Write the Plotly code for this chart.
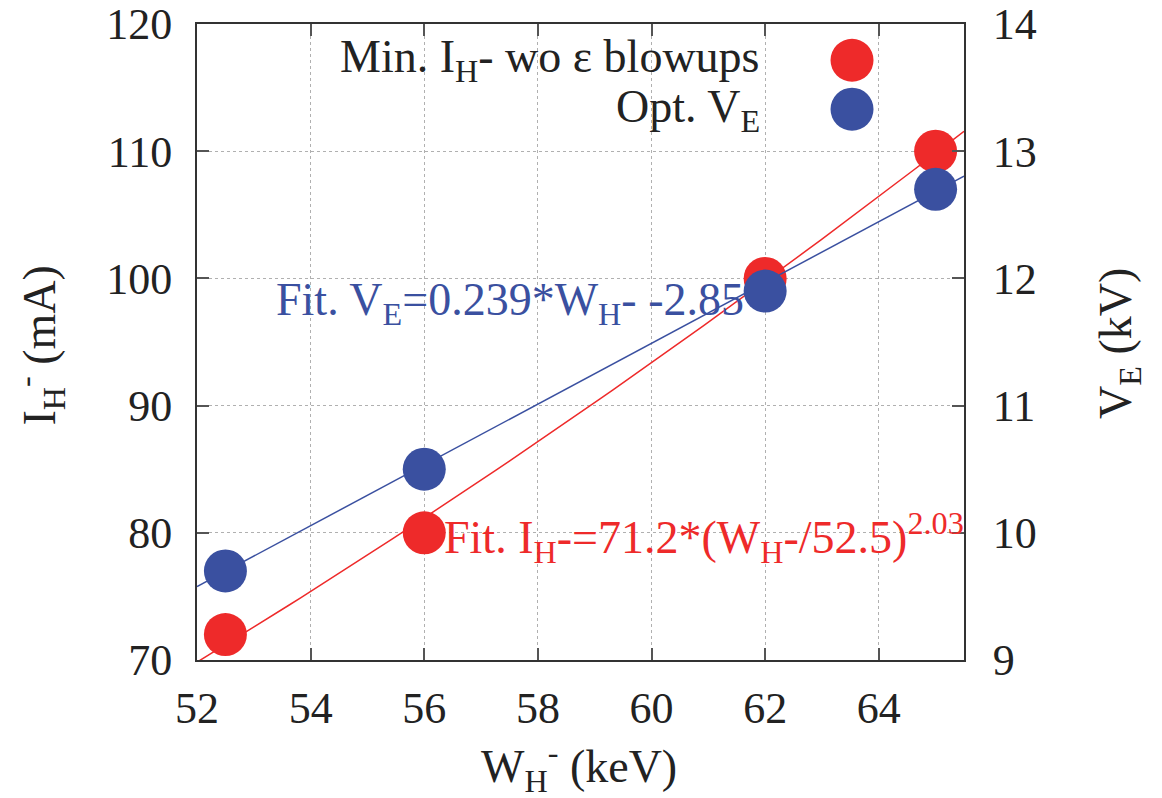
import numpy as np
import plotly.graph_objects as go

# ---- data ----
w_energy = [52.5, 56, 62, 65]            # W_H- (keV)
i_min = [72, 80, 100, 110]               # Min. I_H- wo eps blowups (mA)
v_opt = [9.7, 10.5, 11.9, 12.7]          # Opt. V_E (kV)

# fit parameters as printed on the chart
fit_i_a, fit_i_w0, fit_i_p = 71.2, 52.5, 2.03
fit_v_a, fit_v_b = 0.239, -2.85

x_ticks = [52, 54, 56, 58, 60, 62, 64]
y_ticks = [70, 80, 90, 100, 110, 120]
y2_ticks = [9, 10, 11, 12, 13, 14]

RED = "#EE2A2A"
BLUE = "#3A50A0"
FONT = "Liberation Serif"
FS = 44
AFS = 46

xfit = np.linspace(52, 65.5, 60)
ifit = fit_i_a * (xfit / fit_i_w0) ** fit_i_p
vfit = fit_v_a * xfit + fit_v_b

fig = go.Figure()
fig.add_trace(go.Scatter(x=xfit, y=ifit, mode="lines", line=dict(color=RED, width=1.5),
                         showlegend=False, hoverinfo="skip"))
fig.add_trace(go.Scatter(x=w_energy, y=i_min, mode="markers",
                         marker=dict(color=RED, size=43, line=dict(width=0)),
                         name="Min. I<sub>H</sub>- wo ε blowups", showlegend=False))
fig.add_trace(go.Scatter(x=xfit, y=vfit, mode="lines", line=dict(color=BLUE, width=1.5),
                         yaxis="y2", showlegend=False, hoverinfo="skip"))
fig.add_trace(go.Scatter(x=w_energy, y=v_opt, mode="markers", yaxis="y2",
                         marker=dict(color=BLUE, size=43, line=dict(width=0)),
                         name="Opt. V<sub>E</sub>", showlegend=False))

axis_common = dict(
    showline=True, linecolor="#333333", linewidth=2,
    ticks="inside", ticklen=12, tickwidth=1.5, tickcolor="#555555",
    tickfont=dict(family=FONT, size=FS, color="#222222"),
    zeroline=False, automargin=False,
)

fig.update_layout(
    width=1162, height=798,
    margin=dict(l=197, r=198, t=24, b=138),
    paper_bgcolor="white", plot_bgcolor="white",
    font=dict(family=FONT, size=FS, color="#222222"),
    showlegend=False,
    xaxis=dict(range=[52, 65.5], tickvals=x_ticks, mirror="ticks",
               showgrid=True, gridcolor="#b0b0b0", griddash="dot", gridwidth=1,
               ticklabelstandoff=8, **axis_common),
    yaxis=dict(range=[70, 120], tickvals=y_ticks, mirror=True,
               showgrid=True, gridcolor="#b0b0b0", griddash="dot", gridwidth=1,
               ticklabelstandoff=14, **axis_common),
    yaxis2=dict(range=[9, 14], tickvals=y2_ticks, overlaying="y", side="right",
                showgrid=False, ticklabelstandoff=18, **axis_common),
)

ann_font = dict(family=FONT, size=AFS, color="#222222")
annotations = [
    # legend texts
    dict(text="Min. I<sub>H</sub>- wo ε blowups", x=0.737, y=0.943, xanchor="right", yanchor="middle",
         font=ann_font),
    dict(text="Opt. V<sub>E</sub>", x=0.737, y=0.865, xanchor="right", yanchor="middle", font=ann_font),
    # fit labels
    dict(text="Fit. V<sub>E</sub>=0.239*W<sub>H</sub>- -2.85", x=0.101, y=0.561, xanchor="left",
         yanchor="middle", font=dict(family=FONT, size=AFS, color=BLUE)),
    dict(text="Fit. I<sub>H</sub>-=71.2*(W<sub>H</sub>-/52.5)<sup>2.03</sup>", x=0.319, y=0.193,
         xanchor="left", yanchor="middle", font=dict(family=FONT, size=AFS, color=RED)),
    # axis titles
    dict(text="I<sub>H</sub><sup>-</sup> (mA)", x=-0.205, y=0.494, textangle=-90,
         xanchor="center", yanchor="middle", font=ann_font),
    dict(text="V<sub>E</sub> (kV)", x=1.203, y=0.498, textangle=-90,
         xanchor="center", yanchor="middle", font=ann_font),
    dict(text="W<sub>H</sub><sup>-</sup> (keV)", x=0.498, y=-0.168,
         xanchor="center", yanchor="middle", font=ann_font),
]
for a in annotations:
    a.update(xref="paper", yref="paper", showarrow=False)
fig.update_layout(annotations=annotations)

# legend markers drawn to the right of the legend text
for col, yy in [(RED, 0.943), (BLUE, 0.866)]:
    fig.add_shape(type="circle", xref="paper", yref="paper",
                  xsizemode="pixel", ysizemode="pixel",
                  xanchor=0.854, yanchor=yy, x0=-21.5, x1=21.5, y0=-21.5, y1=21.5,
                  fillcolor=col, line=dict(width=0))

fig.write_html("out.html")
